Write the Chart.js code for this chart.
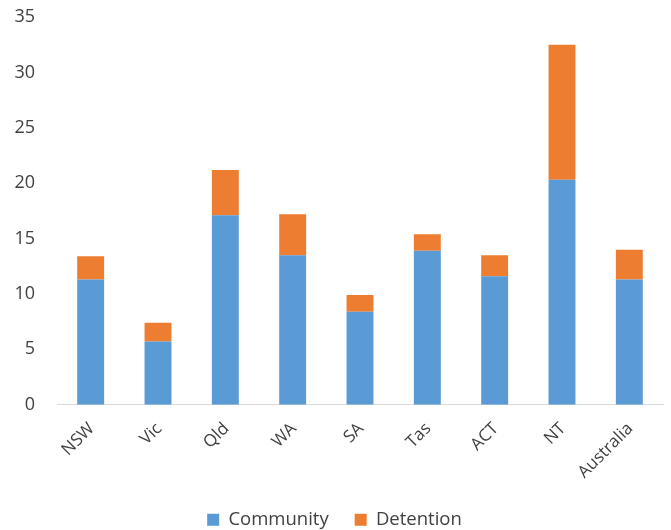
<!DOCTYPE html>
<html lang="en">
<head>
  <meta charset="UTF-8" />
  <title>Community and Detention by Jurisdiction</title>
  <script src="https://cdn.jsdelivr.net/npm/chart.js"></script>
  <style>
    html, body {
      margin: 0;
      padding: 0;
      background: #fff;
    }
    #wrap {
      position: relative;
      width: 671px;
      height: 530px;
    }
  </style>
</head>
<body>
  <div id="wrap">
    <canvas id="chart" width="671" height="530"></canvas>
  </div>

  <script>
    const categories = ['NSW', 'Vic', 'Qld', 'WA', 'SA', 'Tas', 'ACT', 'NT', 'Australia'];
    const community = [11.3, 5.7, 17.1, 13.5, 8.4, 13.9, 11.6, 20.3, 11.3];
    const detention = [2.1, 1.7, 4.1, 3.7, 1.5, 1.5, 1.9, 12.2, 2.7];
    const yTicks = [0, 5, 10, 15, 20, 25, 30, 35];

    const textColor = '#404040';
    const family = "'Open Sans', sans-serif";

    const ctx = document.getElementById('chart').getContext('2d');

    new Chart(ctx, {
      type: 'bar',
      data: {
        labels: categories,
        datasets: [
          {
            label: 'Community',
            data: community,
            backgroundColor: '#5B9BD5',
            barPercentage: 0.4,
            categoryPercentage: 1
          },
          {
            label: 'Detention',
            data: detention,
            backgroundColor: '#ED7D31',
            barPercentage: 0.4,
            categoryPercentage: 1
          }
        ]
      },
      options: {
        responsive: false,
        animation: false,
        layout: {
          padding: { left: 6, right: 8, top: 0, bottom: -9 }
        },
        plugins: {
          tooltip: { enabled: false },
          legend: {
            position: 'bottom',
            labels: {
              color: textColor,
              font: { family: family, size: 18.5 },
              boxWidth: 12,
              boxHeight: 12,
              padding: 26
            }
          }
        },
        scales: {
          x: {
            stacked: true,
            grid: { display: false },
            border: { display: true, color: '#d9d9d9', width: 1 },
            ticks: {
              color: textColor,
              font: { family: family, size: 17 },
              minRotation: 45,
              maxRotation: 45,
              padding: 6,
              labelOffset: 1
            },
            // let the rotated labels hang under the y axis
            afterFit: s => {
              s.paddingLeft = 0;
              s.paddingRight = 0;
              s.height -= 4;
            }
          },
          y: {
            stacked: true,
            min: 0,
            max: 35,
            afterBuildTicks: scale => {
              scale.ticks = yTicks.map(v => ({ value: v }));
            },
            afterFit: s => {
              s.width = 51;
              s.paddingTop = 17;
            },
            grid: { display: false, drawTicks: false },
            border: { display: false },
            ticks: {
              color: textColor,
              font: { family: family, size: 18 },
              padding: 22
            }
          }
        }
      }
    });
  </script>
</body>
</html>
